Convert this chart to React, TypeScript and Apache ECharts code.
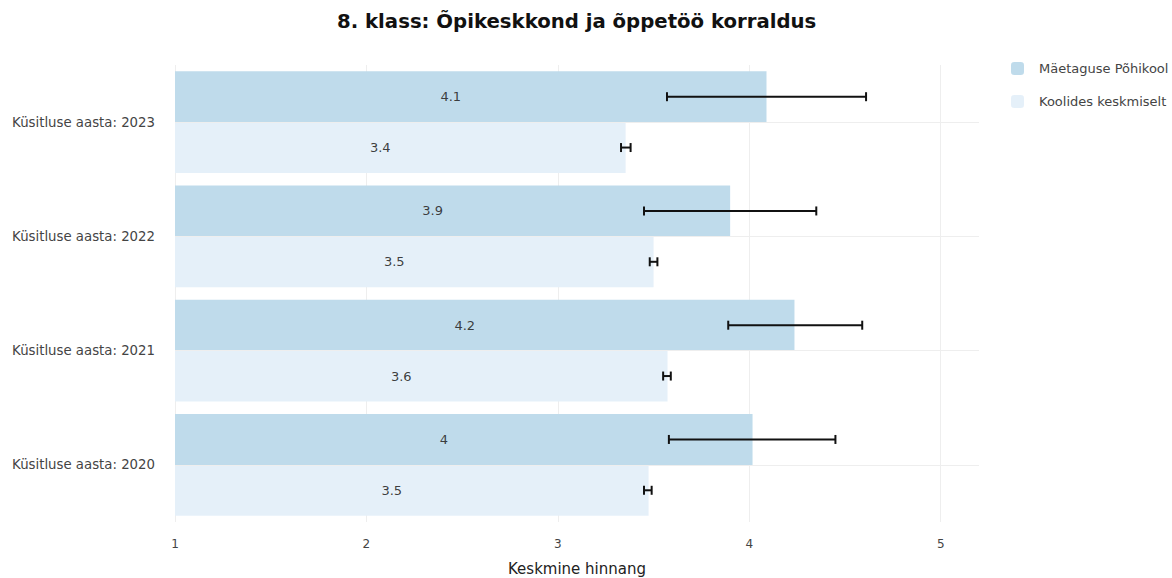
import React, { useEffect, useRef } from "react";
import * as echarts from "echarts";

const categories = [
  "Küsitluse aasta: 2023",
  "Küsitluse aasta: 2022",
  "Küsitluse aasta: 2021",
  "Küsitluse aasta: 2020",
];
const seriesNames = ["Mäetaguse Põhikool", "Koolides keskmiselt"];
const schoolValues = [4.09, 3.9, 4.236, 4.017];
const schoolLow = [3.57, 3.45, 3.89, 3.58];
const schoolHigh = [4.61, 4.35, 4.59, 4.45];
const avgValues = [3.354, 3.5, 3.573, 3.474];
const avgLow = [3.33, 3.48, 3.55, 3.45];
const avgHigh = [3.38, 3.52, 3.59, 3.49];
const xTicks = [1, 2, 3, 4, 5];
const xMin = 1;
const xMax = 5.2;

const FONT = "'DejaVu Sans', Verdana, sans-serif";
const GAP = 0.11;

function errorSeries(name: string, low: number[], high: number[], sign: number) {
  return {
    type: "custom",
    name: name + " error",
    z: 10,
    silent: true,
    data: low.map((l, i) => [i, l, high[i]]),
    encode: { y: 0, x: [1, 2] },
    renderItem: (params: any, api: any) => {
      const band = api.size([0, 1])[1];
      const off = (sign * band * (1 - GAP)) / 4;
      const p1 = api.coord([api.value(1), api.value(0)]);
      const p2 = api.coord([api.value(2), api.value(0)]);
      const y = p1[1] + off;
      const style = { stroke: "#111", lineWidth: 2 };
      const h = 4.5;
      return {
        type: "group",
        children: [
          { type: "line", shape: { x1: p1[0], y1: y, x2: p2[0], y2: y }, style },
          { type: "line", shape: { x1: p1[0], y1: y - h, x2: p1[0], y2: y + h }, style },
          { type: "line", shape: { x1: p2[0], y1: y - h, x2: p2[0], y2: y + h }, style },
        ],
      };
    },
  };
}

export default function App() {
  const ref = useRef<HTMLDivElement>(null);
  useEffect(() => {
    if (!ref.current) return;
    const chart = echarts.init(ref.current, undefined, { renderer: "svg" });
    const labelFmt = (p: any) => String(Number(Number(p.value).toFixed(1)));
    const barLabel = {
      show: true,
      position: "inside",
      offset: [-20, 0],
      fontSize: 13,
      color: "#333",
      fontFamily: FONT,
      formatter: labelFmt,
    };
    chart.setOption({
      animation: false,
      textStyle: { fontFamily: FONT },
      title: {
        text: "8. klass: Õpikeskkond ja õppetöö korraldus",
        left: 337,
        top: 11,
        padding: 0,
        textStyle: { fontSize: 19.7, fontWeight: "bold", color: "#111", fontFamily: FONT },
      },
      legend: {
        orient: "vertical",
        left: 1006,
        top: 57,
        itemWidth: 13,
        itemHeight: 13,
        itemGap: 20,
        data: seriesNames,
        textStyle: { fontSize: 13, color: "#444", fontFamily: FONT, padding: [0, 0, 0, 10] },
      },
      grid: {
        left: 175,
        right: 193,
        top: 65,
        bottom: 56,
        containLabel: false,
        outerBoundsMode: "none",
      },
      xAxis: {
        type: "value",
        min: xMin,
        max: xMax,
        interval: 1,
        name: "Keskmine hinnang",
        nameLocation: "middle",
        nameGap: 39,
        nameTextStyle: { fontSize: 15, color: "#222", fontFamily: FONT },
        axisLine: { show: false },
        axisTick: { show: false },
        axisLabel: {
          fontSize: 12,
          color: "#444",
          margin: 16,
          fontFamily: FONT,
          showMaxLabel: false,
          formatter: (v: number) => (xTicks.includes(v) ? String(v) : ""),
        },
        splitLine: {
          show: true,
          showMaxLine: false,
          lineStyle: { color: "#eeeeee", width: 1 },
        },
      },
      yAxis: {
        type: "category",
        inverse: true,
        data: categories,
        axisLine: { show: false },
        axisTick: { show: false },
        axisLabel: { fontSize: 13.3, color: "#444", margin: 20, fontFamily: FONT },
        splitLine: { show: false },
      },
      series: [
        {
          type: "line",
          name: "grid",
          data: [],
          z: 0,
          silent: true,
          markLine: {
            silent: true,
            symbol: "none",
            label: { show: false },
            lineStyle: { color: "#eeeeee", width: 1, type: "solid" },
            data: categories.map((c) => [{ coord: [xMin, c] }, { coord: [xMax, c] }]),
          },
        },
        {
          type: "bar",
          name: seriesNames[0],
          data: schoolValues,
          barGap: "0%",
          barCategoryGap: GAP * 100 + "%",
          itemStyle: { color: "#bcd9ea", opacity: 0.95 },
          label: barLabel,
          z: 2,
        },
        {
          type: "bar",
          name: seriesNames[1],
          data: avgValues,
          barGap: "0%",
          barCategoryGap: GAP * 100 + "%",
          itemStyle: { color: "#e4eff9", opacity: 0.95 },
          label: barLabel,
          z: 2,
        },
        errorSeries(seriesNames[0], schoolLow, schoolHigh, -1),
        errorSeries(seriesNames[1], avgLow, avgHigh, 1),
      ],
    });
    return () => chart.dispose();
  }, []);
  return (
    <div
      ref={ref}
      style={{ position: "absolute", left: 0, top: 0, width: 1172, height: 578 }}
    />
  );
}
